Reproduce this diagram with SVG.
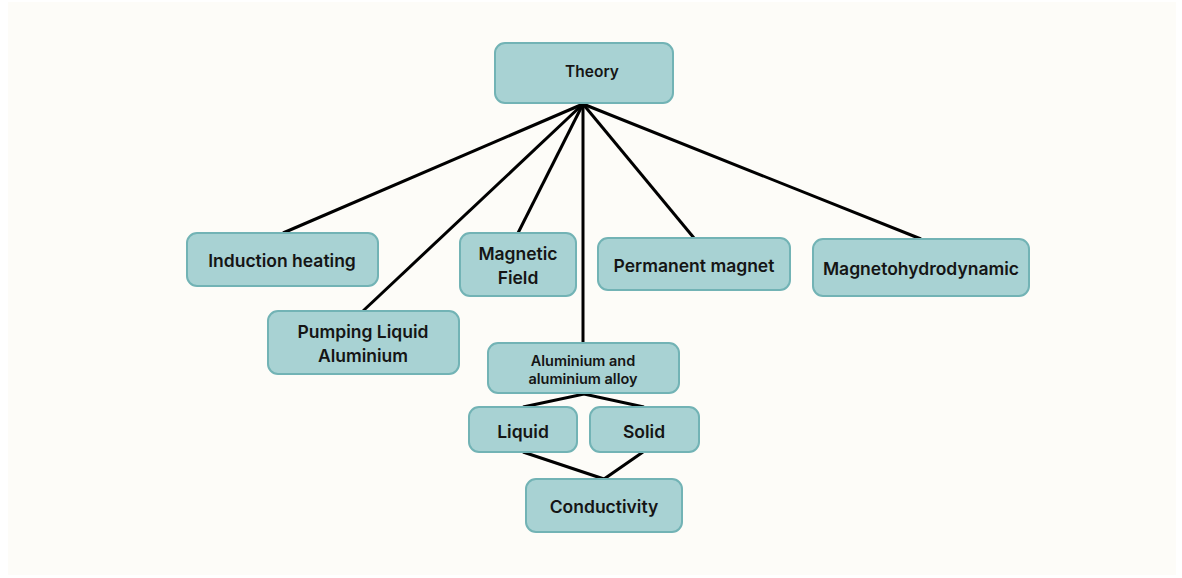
<svg xmlns="http://www.w3.org/2000/svg" width="1182" height="578" viewBox="0 0 1182 578">
<style>
.node rect{fill:#A8D2D3;stroke:#72B3B5;stroke-width:2}
.node text{font-family:Inter,"Liberation Sans",sans-serif;font-weight:600;fill:#151515;text-anchor:middle;dominant-baseline:central}
.t17{font-size:17.5px}
.t13{font-size:14.5px;font-weight:700}
#connectors line,#connectors polyline{stroke:#000;stroke-width:3;fill:none;stroke-linecap:butt}
</style>
<rect width="1182" height="578" fill="#FFFFFF"/>
<rect x="8" y="2" width="1168" height="573" fill="#FDFCF8"/>
<g id="connectors">
<line x1="583" y1="104" x2="283" y2="233"/>
<line x1="583" y1="104" x2="363" y2="311"/>
<line x1="583" y1="104" x2="518" y2="233"/>
<line x1="583" y1="104" x2="583" y2="343"/>
<line x1="583" y1="104" x2="694" y2="238"/>
<line x1="583" y1="104" x2="921" y2="239"/>
<polyline points="523,407 584,394 644,407"/>
<polyline points="523,452 604,479 643,452"/>
</g>
<g id="theory" class="node"><rect x="495" y="43" width="178" height="60" rx="10"/><text x="592" y="71" class="t13" style="font-size:15.5px">Theory</text></g>
<g id="induction" class="node"><rect x="187" y="233" width="191" height="53" rx="10"/><text x="282" y="260" class="t17">Induction heating</text></g>
<g id="pumping" class="node"><rect x="268" y="311" width="191" height="63" rx="10"/><text x="363" y="331" class="t17">Pumping Liquid</text><text x="363" y="355" class="t17">Aluminium</text></g>
<g id="magnetic" class="node"><rect x="460" y="233" width="116" height="63" rx="10"/><text x="518" y="253" class="t17">Magnetic</text><text x="518" y="277" class="t17">Field</text></g>
<g id="permanent" class="node"><rect x="598" y="238" width="192" height="52" rx="10"/><text x="694" y="265" class="t17">Permanent magnet</text></g>
<g id="mhd" class="node"><rect x="813" y="239" width="216" height="57" rx="10"/><text x="921" y="268" class="t17">Magnetohydrodynamic</text></g>
<g id="aluminium" class="node"><rect x="488" y="343" width="191" height="50" rx="10"/><text x="583" y="360" class="t13">Aluminium and</text><text x="583" y="378" class="t13">aluminium alloy</text></g>
<g id="liquid" class="node"><rect x="469" y="407" width="108" height="45" rx="10"/><text x="523" y="431" class="t17">Liquid</text></g>
<g id="solid" class="node"><rect x="590" y="407" width="109" height="45" rx="10"/><text x="644" y="431" class="t17">Solid</text></g>
<g id="conductivity" class="node"><rect x="526" y="479" width="156" height="53" rx="10"/><text x="604" y="506" class="t17">Conductivity</text></g>
</svg>
